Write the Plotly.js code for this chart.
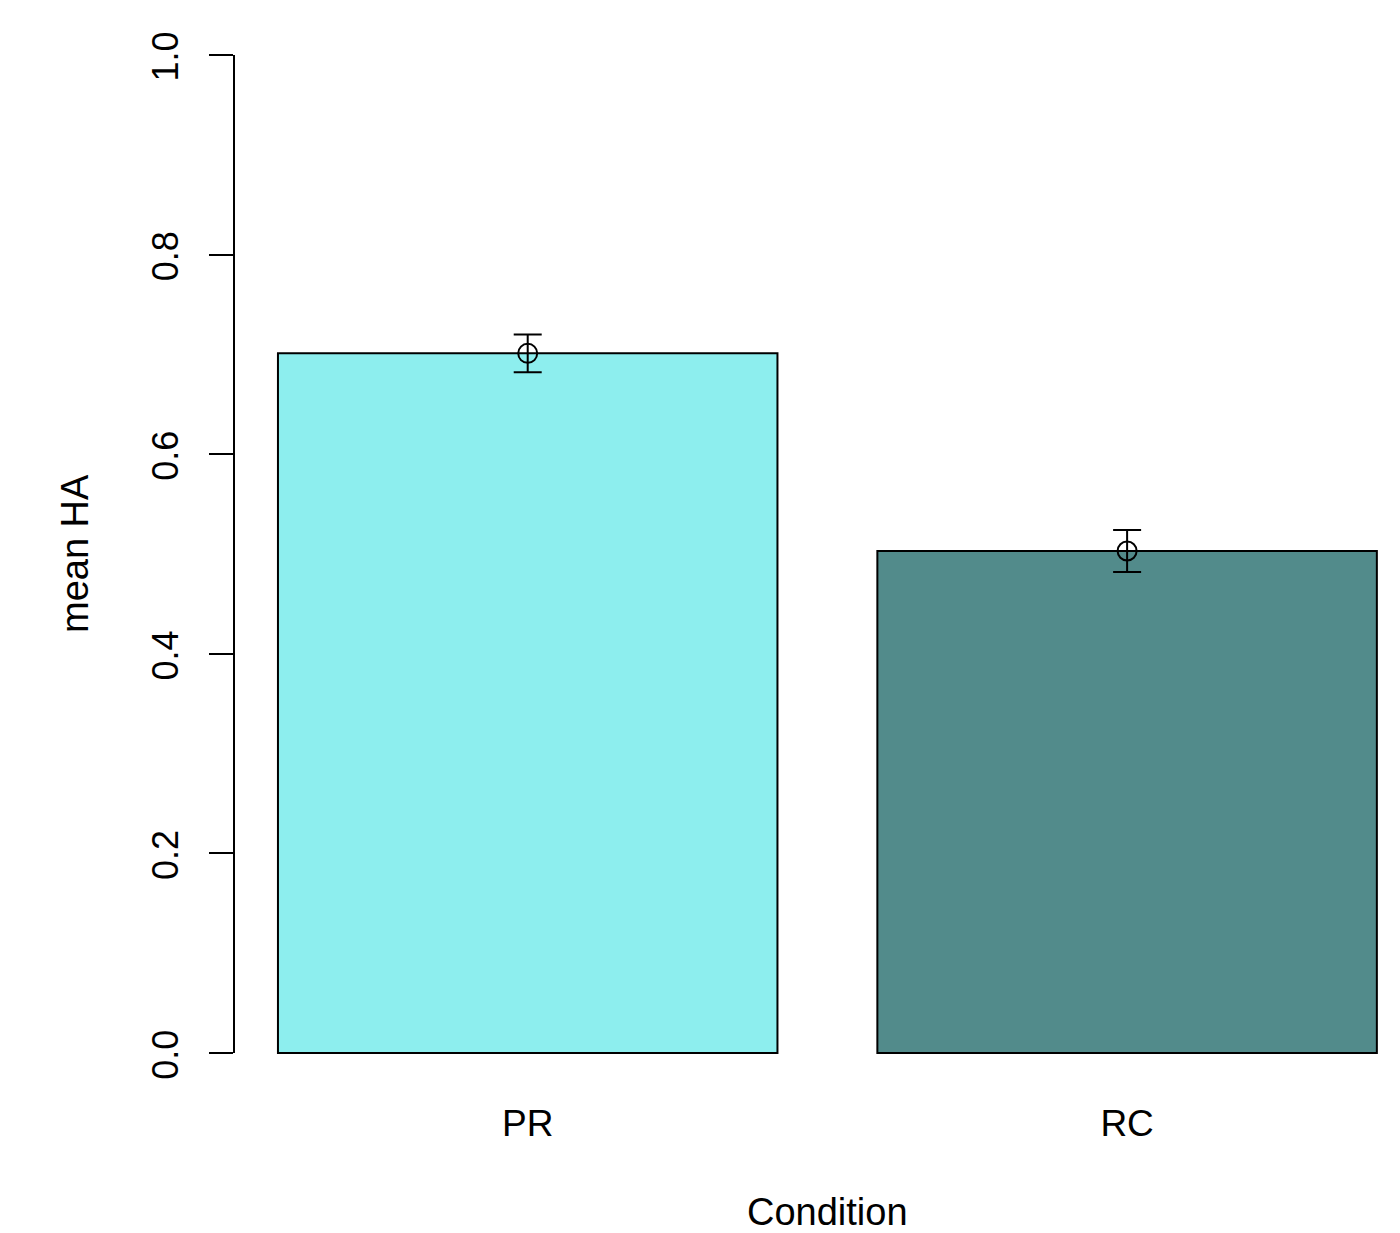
<!DOCTYPE html>
<html>
<head>
<meta charset="utf-8">
<script src="https://cdn.plot.ly/plotly-3.0.1.min.js"></script>
<style>html,body{margin:0;padding:0;background:#fff;}#chart{width:1400px;height:1233px;}</style>
</head>
<body>
<div id="chart"></div>
<script>
// Data
const categories = ["PR", "RC"];
const barCenters = [0.7, 1.9];
const meanHA = [0.701, 0.503];
const seHA = [0.019, 0.021];
const barColors = ["#8DEEEE", "#528B8B"];
const yTicks = [0, 0.2, 0.4, 0.6, 0.8, 1.0];

const FONT = "Liberation Sans, Arial, Helvetica, sans-serif";

const traces = [
  {
    type: "bar",
    x: barCenters,
    y: meanHA,
    width: [1, 1],
    marker: {color: barColors, line: {color: "#000", width: 2}},
    hoverinfo: "skip",
    showlegend: false
  },
  {
    type: "scatter",
    mode: "markers",
    x: barCenters,
    y: meanHA,
    marker: {symbol: "circle-open", size: 19, color: "#000", line: {color: "#000", width: 2}},
    error_y: {type: "data", array: seHA, visible: true, color: "#000", thickness: 2, width: 14},
    showlegend: false
  }
];

const layout = {
  width: 1400,
  height: 1233,
  margin: {l: 234, r: 0, t: 15, b: 140},
  paper_bgcolor: "#fff",
  plot_bgcolor: "#fff",
  font: {family: FONT, color: "#000", size: 36},
  showlegend: false,
  xaxis: {
    range: [0.112, 0.112 + 1166 / 499.5],
    tickvals: barCenters,
    ticktext: categories,
    ticks: "",
    showline: false,
    showgrid: false,
    zeroline: false,
    tickfont: {family: FONT, size: 37, color: "#000"},
    ticklabelstandoff: 5
  },
  yaxis: {
    range: [-0.04, 1.04],
    tickvals: yTicks,
    tickformat: ".1f",
    ticks: "outside",
    ticklen: 24,
    tickwidth: 2,
    tickcolor: "#000",
    tickangle: -90,
    showline: false,
    showgrid: false,
    zeroline: false,
    tickfont: {family: FONT, size: 36, color: "#000"},
    ticklabelstandoff: 17,
    ticklabelshift: 7
  },
  shapes: [
    {type: "line", xref: "paper", yref: "y", x0: 0, x1: 0, y0: 0, y1: 1,
     line: {color: "#000", width: 2}}
  ],
  annotations: [
    {text: "Condition", xref: "x", yref: "paper", x: 1.3, y: (1093 - 1212) / 1078,
     xanchor: "center", yanchor: "middle", showarrow: false,
     font: {family: FONT, size: 38, color: "#000"}},
    {text: "mean HA", xref: "paper", yref: "paper", x: (75 - 234) / 1166, y: 0.5,
     xanchor: "center", yanchor: "middle", textangle: -90, showarrow: false,
     font: {family: FONT, size: 38, color: "#000"}}
  ]
};

Plotly.newPlot("chart", traces, layout, {displayModeBar: false, staticPlot: true});
</script>
</body>
</html>
